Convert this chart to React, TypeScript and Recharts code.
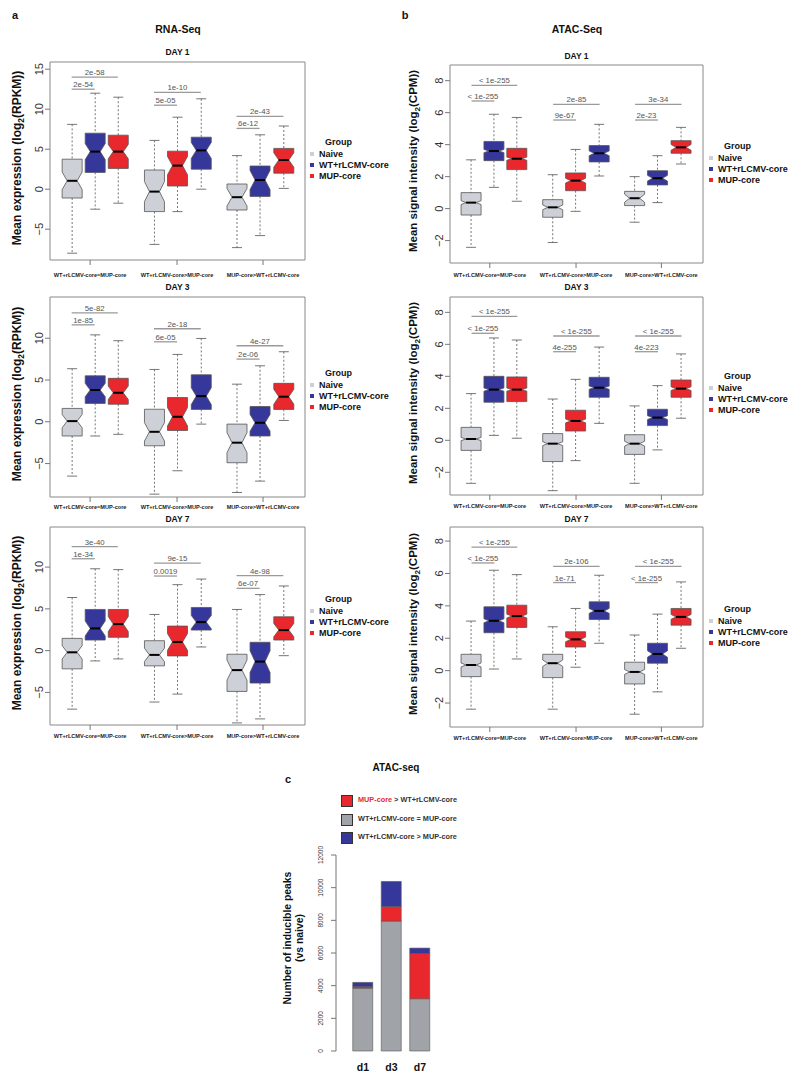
import React from 'react';
import { ComposedChart, BarChart, Bar, XAxis, YAxis, ReferenceLine, ReferenceArea } from 'recharts';

const GROUP_LABELS = ['WT+rLCMV-core=MUP-core', 'WT+rLCMV-core>MUP-core', 'MUP-core>WT+rLCMV-core'];
const SERIES = ['Naive', 'WT+rLCMV-core', 'MUP-core'];
// order of the boxes inside the three comparison groups
const BOX_ORDER = ['Naive', 'WT+rLCMV-core', 'MUP-core', 'Naive', 'MUP-core', 'WT+rLCMV-core', 'Naive', 'WT+rLCMV-core', 'MUP-core'];

// each box: [whisker low, Q1, median, Q3, whisker high, notch half-height]
const RNA_D1 = [
  [-8.0, -1.1, 1.05, 3.75, 8.1, 1.1],
  [-2.5, 2.1, 4.7, 7.0, 12.0, 1.0],
  [-1.75, 2.6, 4.7, 6.75, 11.5, 0.9],
  [-6.9, -2.8, -0.3, 2.4, 6.1, 1.25],
  [-2.8, 0.4, 2.95, 4.75, 9.0, 1.15],
  [0.0, 2.5, 4.85, 6.5, 11.3, 1.0],
  [-7.3, -2.6, -1.0, 0.65, 4.2, 1.1],
  [-5.8, -0.9, 1.15, 2.9, 6.8, 1.2],
  [0.1, 2.0, 3.65, 5.1, 7.9, 0.9],
];
const RNA_D3 = [
  [-6.5, -1.7, 0.08, 1.6, 6.35, 0.8],
  [-1.7, 2.2, 3.8, 5.5, 10.4, 0.8],
  [-1.5, 2.1, 3.47, 5.2, 9.7, 0.8],
  [-8.66, -2.87, -1.2, 1.5, 6.26, 1.1],
  [-5.86, -1.04, 0.6, 2.9, 8.06, 1.1],
  [-0.28, 1.48, 3.07, 5.62, 9.97, 1.0],
  [-8.46, -4.9, -2.5, -0.28, 4.5, 1.2],
  [-7.1, -1.7, -0.12, 1.83, 6.7, 1.0],
  [0.16, 1.48, 3.0, 4.6, 8.38, 0.9],
];
const RNA_D7 = [
  [-7.0, -2.18, -0.2, 1.47, 6.36, 0.8],
  [-1.23, 1.27, 2.66, 4.93, 9.8, 0.9],
  [-0.99, 1.6, 3.18, 4.93, 9.7, 0.9],
  [-6.15, -1.82, -0.51, 1.19, 4.33, 0.8],
  [-5.2, -0.63, 1.04, 2.94, 7.9, 1.0],
  [0.44, 2.46, 3.42, 5.17, 8.57, 0.8],
  [-8.65, -4.88, -2.33, -0.43, 4.93, 1.2],
  [-8.17, -3.88, -1.31, 1.0, 6.71, 1.3],
  [-0.6, 1.27, 2.46, 4.05, 7.74, 0.8],
];
const ATAC_D1 = [
  [-2.42, -0.4, 0.375, 1.0, 3.05, 0.12],
  [1.33, 3.0, 3.6, 4.2, 5.9, 0.1],
  [0.46, 2.44, 3.12, 3.77, 5.7, 0.1],
  [-2.12, -0.54, 0.08, 0.56, 2.12, 0.15],
  [-0.17, 1.12, 1.75, 2.23, 3.7, 0.15],
  [2.04, 2.92, 3.46, 3.94, 5.27, 0.15],
  [-0.85, 0.19, 0.65, 1.08, 2.0, 0.25],
  [0.375, 1.48, 1.9, 2.37, 3.31, 0.18],
  [2.79, 3.46, 3.83, 4.25, 5.08, 0.18],
];
const ATAC_D3 = [
  [-2.69, -0.63, 0.08, 0.81, 2.92, 0.1],
  [0.31, 2.38, 3.17, 4.0, 6.4, 0.1],
  [0.13, 2.42, 3.17, 3.96, 6.27, 0.1],
  [-3.15, -1.33, -0.21, 0.42, 2.58, 0.12],
  [-1.27, 0.58, 1.21, 1.88, 3.81, 0.12],
  [1.06, 2.69, 3.29, 3.94, 5.83, 0.1],
  [-2.69, -0.88, -0.21, 0.35, 2.15, 0.15],
  [-0.6, 0.92, 1.42, 1.94, 3.42, 0.12],
  [1.38, 2.69, 3.23, 3.77, 5.4, 0.12],
];
const ATAC_D7 = [
  [-2.38, -0.37, 0.35, 1.01, 3.06, 0.12],
  [0.1, 2.34, 3.08, 3.94, 6.2, 0.12],
  [0.72, 2.67, 3.37, 4.04, 5.93, 0.12],
  [-2.38, -0.43, 0.46, 1.01, 2.71, 0.2],
  [0.21, 1.46, 1.93, 2.4, 3.84, 0.15],
  [1.69, 3.16, 3.69, 4.25, 5.89, 0.15],
  [-2.69, -0.82, -0.08, 0.52, 2.2, 0.15],
  [-1.31, 0.46, 1.03, 1.69, 3.49, 0.2],
  [1.38, 2.81, 3.32, 3.84, 5.48, 0.15],
];

// p-values per comparison group: [short label, short y, long label, long y]
const RNA_D1_P = [['2e-54', 12.5, '2e-58', 14.0], ['5e-05', 10.5, '1e-10', 12.1], ['6e-12', 7.6, '2e-43', 9.1]];
const RNA_D3_P = [['1e-85', 11.6, '5e-82', 13.04], ['6e-05', 9.57, '2e-18', 11.13], ['2e-06', 7.5, '4e-27', 9.1]];
const RNA_D7_P = [['1e-34', 11.0, '3e-40', 12.46], ['0.0019', 8.93, '9e-15', 10.48], ['6e-07', 7.46, '4e-98', 8.97]];
const ATAC_D1_P = [['< 1e-255', 6.73, '< 1e-255', 7.7], ['9e-67', 5.54, '2e-85', 6.52], ['2e-23', 5.54, '3e-34', 6.52]];
const ATAC_D3_P = [['< 1e-255', 6.69, '< 1e-255', 7.75], ['4e-255', 5.54, '< 1e-255', 6.52], ['4e-223', 5.54, '< 1e-255', 6.52]];
const ATAC_D7_P = [['< 1e-255', 6.65, '< 1e-255', 7.63], ['1e-71', 5.44, '2e-106', 6.44], ['< 1e-255', 5.44, '< 1e-255', 6.44]];

const RNA_TICKS_D1 = [-5, 0, 5, 10, 15];
const RNA_TICKS = [-5, 0, 5, 10];
const ATAC_TICKS = [-2, 0, 2, 4, 6, 8];

// panel c
const DAYS = ['d1', 'd3', 'd7'];
const SAME_PEAKS = [3850, 7950, 3200];
const MUP_GT_PEAKS = [100, 900, 2770];
const WT_GT_PEAKS = [250, 1530, 330];
const PEAK_TICKS = [0, 2000, 4000, 6000, 8000, 10000, 12000];

const COLORS: Record<string, string> = { 'Naive': '#CDD0D7', 'WT+rLCMV-core': '#35379A', 'MUP-core': '#E8282D' };
const BOX_POS = [1, 2, 3, 4.57, 5.57, 6.6, 8.15, 9.15, 10.18];
const X_DOMAIN = [0.06, 11.12];
const X_TICKS = [1.8, 5.57, 9.3];
const FONT = '"Liberation Sans", Arial, Helvetica, sans-serif';

const fmtNum = (v: number) => (v < 0 ? '\u2212' + Math.abs(v) : String(v));

const BoxShape = (props: any) => {
  const { x, y, width, height, payload } = props;
  if (!payload) return null;
  const top = Math.min(y, y + height);
  const h = Math.abs(height);
  const { lo, q1, med, q3, hi, notch, fill } = payload;
  const k = h / (q3 - q1);
  const py = (v: number) => top + (q3 - v) * k;
  const cx = x + width / 2;
  const xl = x;
  const xr = x + width;
  const ind = width / 4;
  const m = py(med);
  const nHi = py(Math.min(med + notch, q3));
  const nLo = py(Math.max(med - notch, q1));
  const bot = top + h;
  const pts = [
    [xl, top], [xr, top], [xr, nHi], [xr - ind, m], [xr, nLo], [xr, bot],
    [xl, bot], [xl, nLo], [xl + ind, m], [xl, nHi],
  ].map((p) => p.join(',')).join(' ');
  const cap = width / 4;
  return (
    <g>
      <line x1={cx} x2={cx} y1={py(hi)} y2={top} stroke="#666" strokeWidth={0.9} strokeDasharray="2 2" />
      <line x1={cx} x2={cx} y1={bot} y2={py(lo)} stroke="#666" strokeWidth={0.9} strokeDasharray="2 2" />
      <line x1={cx - cap} x2={cx + cap} y1={py(hi)} y2={py(hi)} stroke="#666" strokeWidth={0.9} />
      <line x1={cx - cap} x2={cx + cap} y1={py(lo)} y2={py(lo)} stroke="#666" strokeWidth={0.9} />
      <polygon points={pts} fill={fill} stroke="#555" strokeWidth={0.8} />
      <line x1={xl + ind} x2={xr - ind} y1={m} y2={m} stroke="#000" strokeWidth={2} />
    </g>
  );
};

const YTick = (props: any) => {
  const { x, y, payload, fontSize } = props;
  return (
    <text x={x} y={y} transform={`rotate(-90 ${x} ${y})`} textAnchor="middle" fontSize={fontSize || 11} fill="#333" fontFamily={FONT}>
      {fmtNum(payload.value)}
    </text>
  );
};

const XTick = (props: any) => {
  const { x, y, index, dy } = props;
  return (
    <text x={x} y={y + dy} textAnchor="middle" fontSize={5.6} fontWeight="bold" fill="#222" fontFamily={FONT}>
      {GROUP_LABELS[index]}
    </text>
  );
};

const Txt = ({ x, y, size, bold = true, anchor = 'middle', rotate = false, color = '#111', children }: any) => (
  <div
    style={{
      position: 'absolute', left: x, top: y, fontSize: size, fontWeight: bold ? 'bold' : 'normal', color,
      whiteSpace: 'nowrap', lineHeight: 1, fontFamily: FONT,
      transform: `translate(${anchor === 'middle' ? '-50%' : '0'}, -50%)${rotate ? ' rotate(-90deg)' : ''}`,
      transformOrigin: anchor === 'middle' ? 'center' : 'left center',
    }}
  >
    {children}
  </div>
);

const GroupLegend = ({ x, y }: { x: number; y: number }) => (
  <>
    <Txt x={x + 15} y={y} size={9} anchor="start">Group</Txt>
    {SERIES.map((s, i) => (
      <React.Fragment key={s}>
        <div style={{ position: 'absolute', left: x, top: y + 12 + i * 11 - 2, width: 4, height: 4, background: COLORS[s] }} />
        <Txt x={x + 9} y={y + 12 + i * 11} size={9} anchor="start">{s}</Txt>
      </React.Fragment>
    ))}
  </>
);

const BoxPanel = ({ cfg }: any) => {
  const [pl, pt, pr, pb] = cfg.plot;
  const mT = 12;
  const xH = 25;
  const rows = cfg.data.map((d: number[], i: number) => ({
    pos: BOX_POS[i], lo: d[0], q1: d[1], med: d[2], q3: d[3], hi: d[4], notch: d[5], fill: COLORS[BOX_ORDER[i]],
  }));
  return (
    <div style={{ position: 'absolute', left: pl - 50, top: pt - mT }}>
      <ComposedChart width={pr - pl + 60} height={pb - pt + mT + xH} data={rows} margin={{ top: mT, right: 10, left: 20, bottom: 0 }}>
        <XAxis
          type="number" dataKey="pos" domain={X_DOMAIN} ticks={X_TICKS} allowDataOverflow interval={0}
          axisLine={false} tickSize={5} tickLine={{ stroke: '#777' }} height={xH}
          tick={<XTick dy={cfg.labelDy} />}
        />
        <YAxis
          type="number" domain={cfg.domain} ticks={cfg.yTicks} allowDataOverflow interval={0}
          axisLine={false} tickSize={5} tickLine={{ stroke: '#777' }} width={30} tick={<YTick />}
        />
        <ReferenceArea x1={X_DOMAIN[0]} x2={X_DOMAIN[1]} y1={cfg.domain[0]} y2={cfg.domain[1]} fill="none" fillOpacity={0} stroke="#888" strokeWidth={1} ifOverflow="visible" />
        {cfg.pv.map((p: any[], g: number) => [
          <ReferenceLine
            key={`s${g}`} segment={[{ x: BOX_POS[g * 3], y: p[1] }, { x: BOX_POS[g * 3 + 1], y: p[1] }]}
            stroke="#9a9a9a" strokeWidth={1.3} ifOverflow="visible"
            label={{ value: p[0], position: 'top', offset: 2, fontSize: 7.8, fill: '#555', fontFamily: FONT }}
          />,
          <ReferenceLine
            key={`l${g}`} segment={[{ x: BOX_POS[g * 3], y: p[3] }, { x: BOX_POS[g * 3 + 2], y: p[3] }]}
            stroke="#9a9a9a" strokeWidth={1.3} ifOverflow="visible"
            label={{ value: p[2], position: 'top', offset: 2, fontSize: 7.8, fill: '#555', fontFamily: FONT }}
          />,
        ])}
        <Bar dataKey={(r: any) => [r.q1, r.q3]} barSize={20} shape={<BoxShape />} isAnimationActive={false} />
      </ComposedChart>
    </div>
  );
};

const PANELS = [
  { id: 'a1', data: RNA_D1, pv: RNA_D1_P, domain: [-8.85, 15.9], yTicks: RNA_TICKS_D1, plot: [50, 62, 305, 260], labelDy: 10, day: 'DAY 1', dayY: 52, legY: 142 },
  { id: 'a3', data: RNA_D3, pv: RNA_D3_P, domain: [-9.0, 14.93], yTicks: RNA_TICKS, plot: [50, 297, 305, 497], labelDy: 4.5, day: 'DAY 3', dayY: 287, legY: 373 },
  { id: 'a7', data: RNA_D7, pv: RNA_D7_P, domain: [-8.9, 14.8], yTicks: RNA_TICKS, plot: [50, 527, 305, 725], labelDy: 6, day: 'DAY 7', dayY: 519, legY: 599 },
  { id: 'b1', data: ATAC_D1, pv: ATAC_D1_P, domain: [-3.4, 8.98], yTicks: ATAC_TICKS, plot: [450, 65, 703, 263], labelDy: 7, day: 'DAY 1', dayY: 56, legY: 146 },
  { id: 'b3', data: ATAC_D3, pv: ATAC_D3_P, domain: [-3.42, 8.96], yTicks: ATAC_TICKS, plot: [450, 297, 703, 495], labelDy: 6, day: 'DAY 3', dayY: 287, legY: 376 },
  { id: 'b7', data: ATAC_D7, pv: ATAC_D7_P, domain: [-3.48, 8.87], yTicks: ATAC_TICKS, plot: [450, 527, 703, 727], labelDy: 6, day: 'DAY 7', dayY: 519, legY: 609 },
];

const CTick = (props: any) => <YTick {...props} fontSize={6.5} />;

const DayTick = (props: any) => {
  const { x, y, payload } = props;
  return (
    <text x={x} y={y + 12} textAnchor="middle" fontSize={10.5} fontWeight="bold" fill="#111" fontFamily={FONT}>
      {payload.value}
    </text>
  );
};

const PeaksChart = () => {
  const rows = DAYS.map((d, i) => ({ day: d, same: SAME_PEAKS[i], mup: MUP_GT_PEAKS[i], wt: WT_GT_PEAKS[i] }));
  return (
    <div style={{ position: 'absolute', left: 300, top: 845 }}>
      <BarChart width={150} height={232} data={rows} margin={{ top: 10, right: 15.75, left: 6, bottom: 0 }}>
        <XAxis dataKey="day" axisLine={false} tickLine={false} padding={{ left: 12.75, right: 0 }} height={26} tick={<DayTick />} />
        <YAxis
          domain={[0, 12000]} ticks={PEAK_TICKS} interval={0} width={30} tickSize={5} tickMargin={8}
          axisLine={{ stroke: '#777' }} tickLine={{ stroke: '#777' }} tick={<CTick />}
        />
        <Bar dataKey="same" stackId="s" fill="#A0A4A9" stroke="#555" strokeWidth={0.6} barSize={20} isAnimationActive={false} />
        <Bar dataKey="mup" stackId="s" fill={COLORS['MUP-core']} stroke="#555" strokeWidth={0.6} barSize={20} isAnimationActive={false} />
        <Bar dataKey="wt" stackId="s" fill={COLORS['WT+rLCMV-core']} stroke="#555" strokeWidth={0.6} barSize={20} isAnimationActive={false} />
      </BarChart>
    </div>
  );
};

const LEGEND_C = [
  { color: COLORS['MUP-core'], y: 800, label: <><span style={{ color: COLORS['MUP-core'] }}>MUP-core</span> &gt; WT+rLCMV-core</> },
  { color: '#A0A4A9', y: 819, label: 'WT+rLCMV-core = MUP-core' },
  { color: COLORS['WT+rLCMV-core'], y: 837, label: 'WT+rLCMV-core > MUP-core' },
];

export default function App() {
  return (
    <div style={{ position: 'absolute', left: 0, top: 0, width: 800, height: 1077, background: '#fff', fontFamily: FONT }}>
      <Txt x={15} y={15} size={11}>a</Txt>
      <Txt x={405} y={15} size={11}>b</Txt>
      <Txt x={178} y={29} size={10.5}>RNA-Seq</Txt>
      <Txt x={577} y={29} size={10.5}>ATAC-Seq</Txt>
      {PANELS.map((p) => {
        const isA = p.id[0] === 'a';
        const cx = (p.plot[0] + p.plot[2]) / 2;
        const cy = (p.plot[1] + p.plot[3]) / 2 - 3;
        return (
          <React.Fragment key={p.id}>
            <Txt x={cx} y={p.dayY} size={8.5}>{p.day}</Txt>
            <BoxPanel cfg={p} />
            <Txt x={isA ? 18 : 415} y={cy} size={isA ? 12 : 11.5} rotate>
              {isA ? <>Mean expression (log<sub style={{ fontSize: '0.7em' }}>2</sub>(RPKM))</> : <>Mean signal intensity (log<sub style={{ fontSize: '0.7em' }}>2</sub>(CPM))</>}
            </Txt>
            <GroupLegend x={isA ? 310 : 709} y={p.legY} />
          </React.Fragment>
        );
      })}
      <Txt x={288} y={779} size={11}>c</Txt>
      <Txt x={396} y={768} size={10}>ATAC-seq</Txt>
      {LEGEND_C.map((l, i) => (
        <React.Fragment key={i}>
          <div style={{ position: 'absolute', left: 341, top: l.y - 5.5, width: 10, height: 10, background: l.color, border: '1px solid #333' }} />
          <Txt x={358} y={l.y} size={7.3} anchor="start" color="#333">{l.label}</Txt>
        </React.Fragment>
      ))}
      <Txt x={288} y={938} size={10.4} rotate>Number of inducible peaks</Txt>
      <Txt x={300} y={938} size={10.4} rotate>(vs naive)</Txt>
      <PeaksChart />
    </div>
  );
}
